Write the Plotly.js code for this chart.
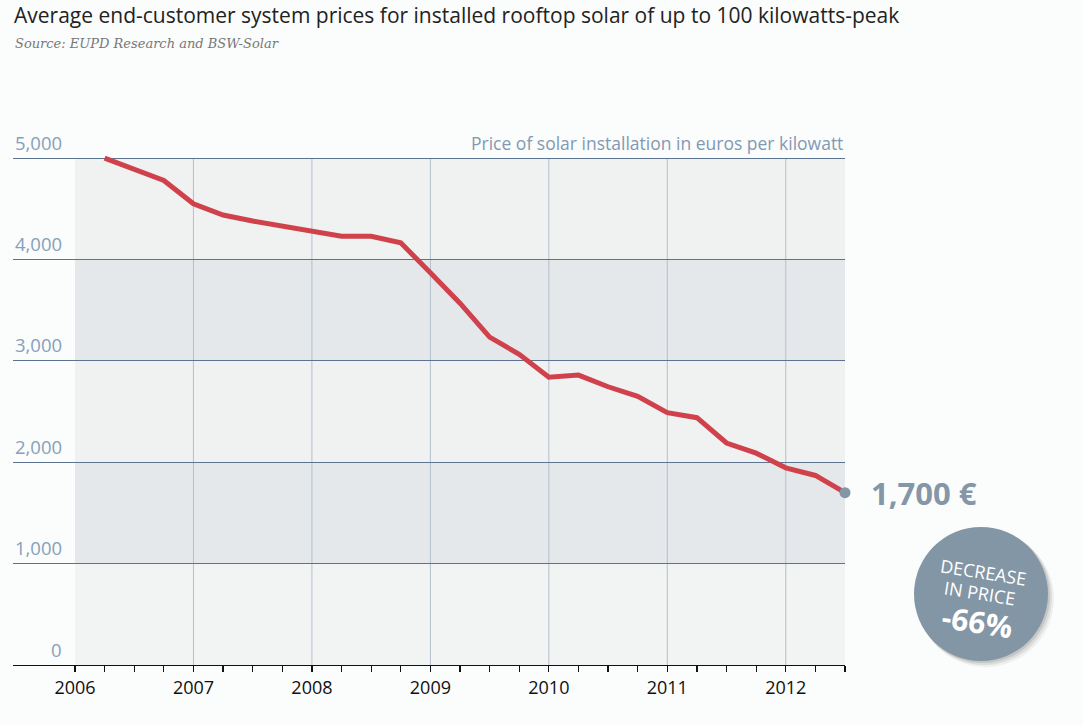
<!DOCTYPE html>
<html>
<head>
<meta charset="utf-8">
<script src="https://cdn.plot.ly/plotly-3.0.1.min.js"></script>
<style>
  html, body { margin: 0; padding: 0; background: #fbfcfc; }
  #chart { width: 1083px; height: 726px; }
</style>
</head>
<body>
<div id="chart"></div>
<script>
// ---- data (quarterly) ----
const quarters = [2006.25, 2006.5, 2006.75, 2007, 2007.25, 2007.5, 2007.75, 2008,
                  2008.25, 2008.5, 2008.75, 2009, 2009.25, 2009.5, 2009.75, 2010,
                  2010.25, 2010.5, 2010.75, 2011, 2011.25, 2011.5, 2011.75, 2012,
                  2012.25, 2012.5];
const prices = [5000, 4890, 4780, 4550, 4440, 4380, 4330, 4280,
                4230, 4230, 4165, 3870, 3570, 3235, 3065, 2840,
                2860, 2745, 2650, 2490, 2440, 2190, 2090, 1945,
                1870, 1700];
const yearLabels = ["2006", "2007", "2008", "2009", "2010", "2011", "2012"];
const yTickValues = [0, 1000, 2000, 3000, 4000, 5000];
const yTickLabels = ["0", "1,000", "2,000", "3,000", "4,000", "5,000"];
const endValueLabel = "1,700 €";
const badgeLines = ["DECREASE", "IN PRICE", "-66%"];

// ---- geometry helpers ----
const W = 1083, H = 726;
const M = {l: 13, r: 238, t: 143, b: 61};
const PW = W - M.l - M.r, PH = H - M.t - M.b;
const px2x = p => (p - M.l) / PW;
const px2y = p => (H - M.b - p) / PH;

const xStart = 2006, xEnd = 2012.5;
const pxPerYear = (845 - 75) / 6.5;
const xRange = [xStart - 62 / pxPerYear, xEnd];

// quarter tick positions
const tickVals = [], tickText = [];
for (let q = 0; q <= 26; q++) {
  const v = xStart + q * 0.25;
  tickVals.push(v);
  tickText.push(q % 4 === 0 ? yearLabels[q / 4] : "");
}

const shapes = [];
// alternating bands
const bandColors = ["#f2f3f3", "#e5e8eb", "#f0f1f1", "#e5e8eb", "#f0f1f1"];
for (let i = 0; i < 5; i++) {
  shapes.push({type: "rect", xref: "x", yref: "y", x0: xStart, x1: xEnd,
    y0: yTickValues[i], y1: yTickValues[i + 1], fillcolor: bandColors[i],
    line: {width: 0}, layer: "below"});
}
// vertical year gridlines
for (let yr = 2007; yr <= 2012; yr++) {
  shapes.push({type: "line", xref: "x", yref: "y", x0: yr, x1: yr, y0: 0, y1: 5000,
    line: {color: "#b3bfcd", width: 1}, layer: "below"});
}
// badge circle with soft shadow
const cx = 981, cy = 594, r = 67;
[[6, "rgba(0,0,0,0.05)"], [4, "rgba(0,0,0,0.08)"], [2, "rgba(0,0,0,0.10)"]].forEach(([o, c]) => {
  shapes.push({type: "circle", xref: "paper", yref: "paper",
    x0: px2x(cx - r + o * 0.6), x1: px2x(cx + r + o), y0: px2y(cy + r + o), y1: px2y(cy - r + o * 0.6),
    fillcolor: c, line: {width: 0}});
});
shapes.push({type: "circle", xref: "paper", yref: "paper",
  x0: px2x(cx - r), x1: px2x(cx + r), y0: px2y(cy + r), y1: px2y(cy - r),
  fillcolor: "#8396a5", line: {width: 0}});

const annotations = [];
// y labels above gridlines
yTickValues.forEach((v, i) => {
  annotations.push({xref: "paper", yref: "y", x: px2x(64), y: v, xanchor: "right", yanchor: "middle",
    yshift: 16, text: yTickLabels[i], showarrow: false,
    font: {family: "Open Sans", size: 18.5, color: "#86a0bc"}});
});
// unit label
annotations.push({xref: "paper", yref: "paper", x: 1, y: px2y(143), xanchor: "right", yanchor: "middle",
  text: "Price of solar installation in euros per kilowatt", showarrow: false,
  font: {family: "Open Sans", size: 17.5, color: "#8299b2"}});
// source line
annotations.push({xref: "paper", yref: "paper", x: px2x(13), y: px2y(44), xanchor: "left", yanchor: "middle",
  text: "<i>Source: EUPD Research and BSW-Solar</i>", showarrow: false,
  font: {family: "DejaVu Serif", size: 13, color: "#777777"}});
// end value label
annotations.push({xref: "paper", yref: "y", x: px2x(869), y: prices[prices.length - 1], xanchor: "left", yanchor: "middle",
  text: "<b>" + endValueLabel + "</b>", showarrow: false,
  font: {family: "Open Sans", size: 31, color: "#8497a8"}});
// badge text
const badgePos = [[983, 572, 18, false], [980, 593, 18, false], [977, 621, 30, true]];
badgeLines.forEach((t, i) => {
  const [bx, by, fs, bold] = badgePos[i];
  annotations.push({xref: "paper", yref: "paper", x: px2x(bx), y: px2y(by), xanchor: "center", yanchor: "middle",
    text: bold ? "<b>" + t + "</b>" : t, textangle: 9, showarrow: false,
    font: {family: "Open Sans", size: fs, color: "#ffffff"}});
});

const traces = [
  {x: quarters, y: prices, type: "scatter", mode: "lines",
   line: {color: "#d0424b", width: 5}, hoverinfo: "skip"},
  {x: [quarters[quarters.length - 1]], y: [prices[prices.length - 1]], type: "scatter", mode: "markers",
   marker: {color: "#8496a5", size: 11}, cliponaxis: false, hoverinfo: "skip"}
];

const layout = {
  width: W, height: H,
  margin: M,
  paper_bgcolor: "#fbfcfc", plot_bgcolor: "rgba(0,0,0,0)",
  showlegend: false,
  title: {text: "Average end-customer system prices for installed rooftop solar of up to 100 kilowatts-peak",
    xref: "container", yref: "container", x: 14 / W, xanchor: "left", y: 1 - 16 / H, yanchor: "middle",
    font: {family: "Open Sans", size: 21, color: "#222222"}},
  xaxis: {range: xRange, tickmode: "array", tickvals: tickVals, ticktext: tickText,
    ticks: "outside", ticklen: 6, tickcolor: "#111", tickwidth: 1.2,
    showline: true, linecolor: "#111", linewidth: 1.3, showgrid: false, zeroline: false,
    tickfont: {family: "Open Sans", size: 18, color: "#111"}, fixedrange: true},
  yaxis: {range: [0, 5150], tickmode: "array", tickvals: [1000, 2000, 3000, 4000, 5000],
    showticklabels: false, ticks: "", showgrid: true, gridcolor: "#5b7391", gridwidth: 1,
    zeroline: false, showline: false, fixedrange: true},
  shapes: shapes,
  annotations: annotations
};

Plotly.newPlot("chart", traces, layout, {displayModeBar: false, staticPlot: true});
</script>
</body>
</html>
